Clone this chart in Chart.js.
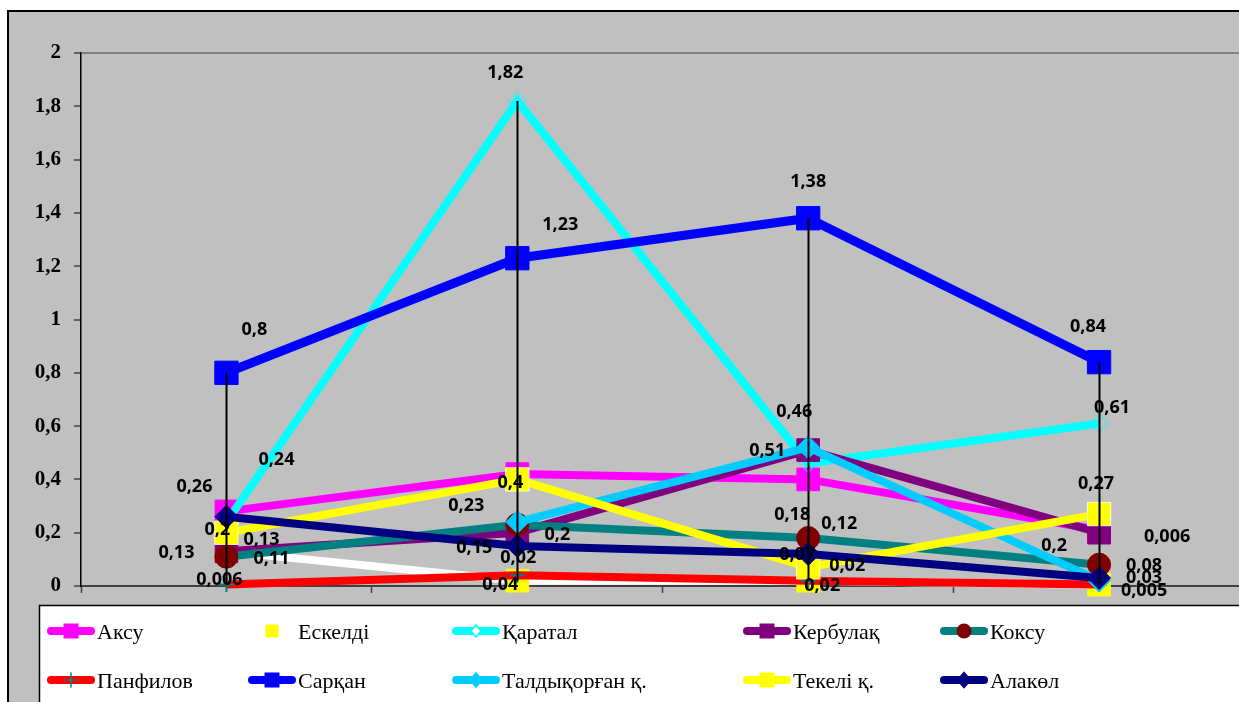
<!DOCTYPE html>
<html>
<head>
<meta charset="utf-8">
<script src="https://cdn.jsdelivr.net/npm/chart.js@4.4.0/dist/chart.umd.min.js"></script>
<style>
  html, body { margin: 0; padding: 0; background: #ffffff; overflow: hidden; }
  #wrap { position: relative; width: 1239px; height: 702px; overflow: hidden; }
  #wrap canvas { position: absolute; left: 0; top: 0; }
</style>
</head>
<body>
<div id="wrap"><canvas id="chart" width="1262" height="702"></canvas></div>
<script>
// ---- data ----
const categories = ['1', '2', '3', '4'];
const yTickLabels = ['0', '0,2', '0,4', '0,6', '0,8', '1', '1,2', '1,4', '1,6', '1,8', '2'];

const seriesNames = ['Аксу', 'Ескелді', 'Қаратал', 'Кербулақ', 'Коксу',
                     'Панфилов', 'Сарқан', 'Талдықорған қ.', 'Текелі қ.', 'Алакөл'];

const aksu        = [0.28, 0.42, 0.40, 0.21];
const eskeldi     = [0.13, 0.02, 0.02, 0.005];
const karatal     = [0.24, 1.82, 0.46, 0.61];
const kerbulak    = [0.13, 0.2, 0.51, 0.2];
const koksu       = [0.11, 0.23, 0.18, 0.08];
const panfilov    = [0.006, 0.04, 0.02, 0.006];
const sarkan      = [0.8, 1.23, 1.38, 0.84];
const taldykorgan = [null, 0.24, 0.52, 0.02];
const tekeli      = [0.2, 0.4, 0.07, 0.27];
const alakol      = [0.26, 0.15, 0.12, 0.03];

const seriesValues = [aksu, eskeldi, karatal, kerbulak, koksu,
                      panfilov, sarkan, taldykorgan, tekeli, alakol];

// ---- styling ----
// r: point radius on the plot, lm: marker size in the legend (px)
const seriesStyles = [
  { line: '#FF00FF', shape: 'rect',    fill: '#FF00FF', stroke: '#FF00FF', r: 16,  w: 8, lm: 15 },
  { line: '#FFFFFF', shape: 'rect',    fill: '#FFFF00', stroke: '#FFFF00', r: 16,  w: 8, lm: 13 },
  { line: '#00FFFF', shape: 'rectRot', fill: 'rgba(0,0,0,0)', stroke: '#00FFFF', r: 9, w: 8, lm: 10 },
  { line: '#800080', shape: 'rect',    fill: '#800080', stroke: '#800080', r: 16,  w: 8, lm: 15 },
  { line: '#008080', shape: 'circle',  fill: '#800000', stroke: '#800000', r: 11.5, w: 8, lm: 15 },
  { line: '#FF0000', shape: 'cross',   fill: '#008080', stroke: '#008080', r: 7.5, w: 8, lm: 14 },
  { line: '#0000FF', shape: 'rect',    fill: '#0000FF', stroke: '#0000FF', r: 16.5, w: 9, lm: 15 },
  { line: '#00CCFF', shape: 'rectRot', fill: '#00CCFF', stroke: '#00CCFF', r: 11.5, w: 8, lm: 12 },
  { line: '#FFFF00', shape: 'rect',    fill: '#FFFF00', stroke: '#FFFFC8', r: 16.5, w: 8, lm: 15 },
  { line: '#000080', shape: 'rectRot', fill: '#000080', stroke: '#000080', r: 11.5, w: 8, lm: 13 }
];

// data label placement: offset of the label centre from its point, null = no labels
const labelOffsets = [
  null,
  [[-50, 2], [1, -23], [39, -15], [45, 6]],
  [[50, -62], [-12, -28], [-14, -52], [13, -16]],
  [[35, -11], [40, 2], [-41, 1], [-45, 13]],
  [[45, 2], [-51, -19], [-16, -23], [45, 1]],
  [[-7, -5], [-17, 10], [14, 5], [68, -48]],
  [[28, -43], [43, -33], [0, -36], [-11, -35]],
  null,
  [[-9, -3], [-7, 3], [-11, -12], [-3, -30]],
  [[-32, -30], [-43, 2], [31, -30], [45, 0]]
];

const legendColumns = [47, 248, 452, 743, 940];
const legendRows = [631, 680];

function fmt(v) { return String(v).replace('.', ','); }

function drawMarker(ctx, shape, x, y, s, fill, stroke) {
  ctx.save();
  ctx.fillStyle = fill;
  ctx.strokeStyle = stroke;
  ctx.lineWidth = 1.5;
  ctx.beginPath();
  if (shape === 'rect') {
    ctx.rect(x - s / 2, y - s / 2, s, s);
    ctx.fill();
  } else if (shape === 'circle') {
    ctx.arc(x, y, s / 2, 0, Math.PI * 2);
    ctx.fill();
  } else if (shape === 'rectRot') {
    ctx.moveTo(x, y - s / 2 - 1);
    ctx.lineTo(x + s / 2, y);
    ctx.lineTo(x, y + s / 2 + 1);
    ctx.lineTo(x - s / 2, y);
    ctx.closePath();
    ctx.fill();
    ctx.stroke();
  } else if (shape === 'cross') {
    ctx.moveTo(x, y - s / 2); ctx.lineTo(x, y + s / 2);
    ctx.moveTo(x - s / 2, y); ctx.lineTo(x + s / 2, y);
    ctx.stroke();
  }
  ctx.restore();
}

// gray chart frame behind everything
const framePlugin = {
  id: 'frame',
  beforeDraw(chart) {
    const ctx = chart.ctx, W = chart.width, H = chart.height;
    ctx.save();
    ctx.fillStyle = '#ffffff';
    ctx.fillRect(0, 0, W, H);
    ctx.fillStyle = '#C0C0C0';
    ctx.fillRect(7, 10, W - 7, H - 10);
    ctx.strokeStyle = '#000000';
    ctx.lineWidth = 2;
    ctx.beginPath();
    ctx.moveTo(8, H); ctx.lineTo(8, 11); ctx.lineTo(W, 11);
    ctx.stroke();
    ctx.restore();
  }
};

// high-low lines, then data labels
const overlayPlugin = {
  id: 'overlay',
  afterDatasetsDraw(chart) {
    const ctx = chart.ctx;
    const xs = chart.scales.x, ys = chart.scales.y;
    ctx.save();
    ctx.strokeStyle = '#000000';
    ctx.lineWidth = 2;
    categories.forEach((c, i) => {
      const vals = seriesValues.map(s => s[i]).filter(v => v !== null);
      const hi = Math.max(...vals), lo = Math.min(...vals);
      const x = Math.round(xs.getPixelForValue(i)) + 0.5;
      ctx.beginPath();
      ctx.moveTo(x, ys.getPixelForValue(hi));
      ctx.lineTo(x, ys.getPixelForValue(lo));
      ctx.stroke();
    });

    ctx.fillStyle = '#000000';
    ctx.font = 'bold 18px "Open Sans"';
    ctx.textAlign = 'center';
    ctx.textBaseline = 'middle';
    seriesValues.forEach((vals, si) => {
      const offs = labelOffsets[si];
      if (!offs) return;
      vals.forEach((v, i) => {
        if (v === null) return;
        const x = xs.getPixelForValue(i) + offs[i][0];
        const y = ys.getPixelForValue(v) + offs[i][1];
        ctx.fillText(fmt(v), x, y);
      });
    });
    ctx.restore();
  },
  afterDraw(chart) {
    const ctx = chart.ctx, W = chart.width, H = chart.height;
    ctx.save();
    ctx.fillStyle = '#ffffff';
    ctx.fillRect(39, 605, W - 39, H - 605);
    ctx.strokeStyle = '#000000';
    ctx.lineWidth = 1.5;
    ctx.beginPath();
    ctx.moveTo(39.5, H); ctx.lineTo(39.5, 605.5); ctx.lineTo(W, 605.5);
    ctx.stroke();

    ctx.font = '22px "Liberation Serif"';
    ctx.textBaseline = 'middle';
    ctx.textAlign = 'left';
    seriesNames.forEach((name, i) => {
      const st = seriesStyles[i];
      const x0 = legendColumns[i % 5];
      const y = legendRows[Math.floor(i / 5)];
      ctx.strokeStyle = st.line;
      ctx.lineWidth = 8;
      ctx.lineCap = 'round';
      ctx.beginPath();
      ctx.moveTo(x0 + 4, y); ctx.lineTo(x0 + 44, y);
      ctx.stroke();
      drawMarker(ctx, st.shape, x0 + 24, y, st.lm, st.shape === 'rectRot' && i === 2 ? '#ffffff' : st.fill, st.stroke);
      ctx.fillStyle = '#000000';
      ctx.fillText(name, x0 + 50, y + 2);
    });
    ctx.restore();
  }
};

const datasets = seriesValues.map((vals, i) => {
  const st = seriesStyles[i];
  return {
    label: seriesNames[i],
    data: vals,
    order: seriesValues.length - i,
    borderColor: st.line,
    borderWidth: st.w,
    backgroundColor: st.fill,
    pointStyle: st.shape,
    pointRadius: st.r,
    pointHoverRadius: st.r,
    pointBackgroundColor: st.fill,
    pointBorderColor: st.stroke,
    pointBorderWidth: st.shape === 'cross' ? 2 : 1,
    tension: 0,
    spanGaps: false,
    clip: false
  };
});

new Chart(document.getElementById('chart'), {
  type: 'line',
  data: { labels: categories, datasets },
  options: {
    responsive: false,
    animation: false,
    events: [],
    layout: { padding: { left: 0, top: 53, right: 13, bottom: 109 } },
    plugins: { legend: { display: false }, tooltip: { enabled: false } },
    scales: {
      x: {
        type: 'category',
        offset: true,
        grid: {
          offset: true,
          drawOnChartArea: false,
          drawTicks: true,
          tickLength: 7,
          color: '#404040',
          tickWidth: 1.5
        },
        border: { color: '#404040', width: 2 },
        ticks: { display: false },
        afterFit(scale) { scale.height = 7; }
      },
      y: {
        min: 0,
        max: 2,
        ticks: {
          stepSize: 0.2,
          padding: 13,
          color: '#000000',
          font: { family: '"Liberation Serif"', size: 21, weight: 'bold' },
          callback: (value, index) => yTickLabels[index]
        },
        grid: {
          color: ctx => (ctx.tick && Math.abs(ctx.tick.value - 2) < 1e-9) ? '#808080' : 'rgba(0,0,0,0)',
          lineWidth: 2,
          tickColor: '#000000',
          tickWidth: 1,
          tickLength: 7
        },
        border: { color: '#000000', width: 1.5 },
        afterFit(scale) { scale.width = 81; }
      }
    }
  },
  plugins: [framePlugin, overlayPlugin]
});
</script>
</body>
</html>
